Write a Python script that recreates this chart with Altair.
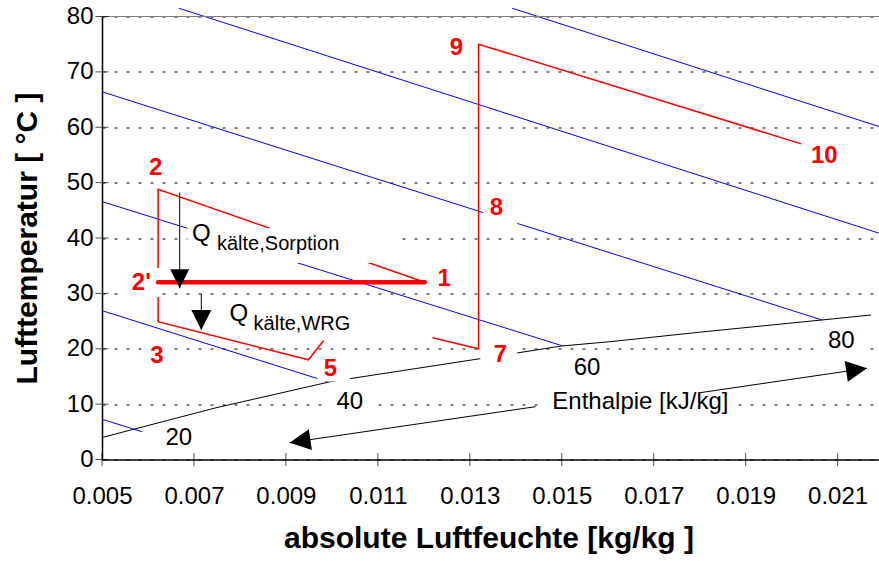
import math

import altair as alt
import pandas as pd

# ---------------------------------------------------------------- data
x_ticks = [0.005, 0.007, 0.009, 0.011, 0.013, 0.015, 0.017, 0.019, 0.021]
y_ticks = [0, 10, 20, 30, 40, 50, 60, 70, 80]
x_max = 0.0219

# saturation line (relative humidity 100 %)
sat_x = [0.005, 0.00746, 0.00997, 0.01337, 0.0150, 0.01606, 0.01801, 0.02066, 0.02173]
sat_t = [3.97, 9.3, 14.06, 18.39, 20.5, 21.28, 23.0, 25.2, 26.1]

# isenthalps [kJ/kg]: start and end point of each line
h_val = [20, 40, 60, 80, 100, 120]
h_x0 = [0.005, 0.005, 0.005, 0.005, 0.00667, 0.01392]
h_t0 = [7.26, 26.88, 46.58, 66.4, 81.5, 81.5]
h_x1 = [0.00587, 0.00992, 0.0150, 0.02066, 0.0219, 0.0219]
h_t1 = [5.02, 14.0, 20.56, 25.2, 40.87, 60.13]

h_lab = ["20", "40", "60", "80", "Enthalpie [kJ/kg]"]
h_lab_x = [0.00667, 0.01039, 0.01555, 0.02108, 0.01671]
h_lab_t = [3.83, 10.44, 16.48, 21.41, 10.39]

# air states of the process
path_a_x = [0.01202, 0.00622, 0.00622, 0.00949, 0.00982]
path_a_t = [32.0, 48.8, 24.9, 18.0, 21.5]
path_b_x = [0.01219, 0.01319, 0.01319, 0.02021]
path_b_t = [22.0, 20.0, 75.0, 57.0]
sorp_x = [0.00622, 0.01202]
sorp_t = [32.0, 32.0]

state_lab = ["1", "2", "2'", "3", "5", "7", "8", "9", "10"]
state_x = [0.012445, 0.00617, 0.005855, 0.006196, 0.009966, 0.013664, 0.013577, 0.012707, 0.020711]
state_t = [32.6, 52.6, 31.9, 18.7, 16.35, 18.88, 45.38, 74.29, 54.87]

# ---------------------------------------------------------------- layout
W, H = 777, 443
KX = W / (x_max - 0.005)   # px per kg/kg
KY = H / 80.0              # px per K
FONT = "Liberation Sans"

xs = alt.Scale(domain=[0.005, x_max], nice=False, zero=False)
ys = alt.Scale(domain=[0, 80], nice=False, zero=False)

x_axis = alt.Axis(
    values=x_ticks, format=".3f", title="absolute Luftfeuchte [kg/kg ]",
    grid=False, ticks=False, tickSize=0, labelPadding=25, labelFlush=False,
    labelFont=FONT, labelFontSize=24, labelColor="black",
    domainColor="black", domainWidth=1.5,
    titleFont=FONT, titleFontSize=30, titleFontWeight="bold", titleColor="black",
    titleX=W / 2 - 2, titleY=88, titleBaseline="alphabetic", titleAlign="center",
)
y_axis = alt.Axis(
    values=y_ticks, title="Lufttemperatur [ °C ]",
    grid=True, gridColor="black", gridDash=[3, 9], gridWidth=1,
    ticks=False, tickSize=0, labelPadding=9, labelFlush=False,
    labelFont=FONT, labelFontSize=24, labelColor="black",
    domainColor="black", domainWidth=1.5,
    titleFont=FONT, titleFontSize=30, titleFontWeight="bold", titleColor="black",
    titleX=-66, titleY=H / 2, titleAngle=270, titleBaseline="alphabetic", titleAlign="center",
)


def X(f="x"):
    return alt.X(f"{f}:Q", scale=xs, axis=x_axis)


def Y(f="t"):
    return alt.Y(f"{f}:Q", scale=ys, axis=y_axis)


def path(xv, tv, key):
    return pd.DataFrame({"x": xv, "t": tv, "i": range(len(xv)), "k": key})


# ---------------------------------------------------------------- tables
sat_df = path(sat_x, sat_t, "sat")
iso_df = pd.concat(
    [path([a, b], [c, d], str(h)) for h, a, b, c, d in zip(h_val, h_x0, h_x1, h_t0, h_t1)]
)
proc_df = pd.concat([path(path_a_x, path_a_t, "a"), path(path_b_x, path_b_t, "b")])
sorp_df = path(sorp_x, sorp_t, "s")

# white label backgrounds (data units)
boxes = pd.DataFrame({
    "x": [0.006855, 0.005485, 0.005964, 0.009683, 0.013228, 0.013294, 0.009966, 0.02056, 0.014664],
    "x2": [0.011488, 0.006268, 0.006442, 0.0104, 0.014033, 0.014033, 0.010836, 0.02154, 0.01882],
    "t": [35.5, 29.36, 16.53, 14.09, 16.53, 42.19, 7.86, 19.42, 7.86],
    "t2": [41.82, 34.6, 20.87, 18.7, 21.23, 47.25, 12.56, 23.4, 12.2],
})

# arrows: tail -> tip
arr = pd.DataFrame({
    "x": [0.00669, 0.00716, 0.01443, 0.01801],
    "t": [48.2, 29.9, 9.54, 12.07],
    "x2": [0.00669, 0.00716, 0.00908, 0.02164],
    "t2": [30.93, 23.4, 3.04, 16.48],
    "s": [361, 400, 441, 441],
})
arr["ang"] = [
    math.degrees(math.atan2(-(b - a) * KY, (d - c) * KX)) % 360
    for a, b, c, d in zip(arr["t"], arr["t2"], arr["x"], arr["x2"])
]

lab_df = pd.DataFrame({"x": state_x, "t": state_t, "s": state_lab})
hl_df = pd.DataFrame({"x": h_lab_x, "t": h_lab_t, "s": h_lab})

q_main = pd.DataFrame({"x": [0.006958, 0.007775], "t": [39.39, 25.02], "s": ["Q", "Q"]})
q_sub = pd.DataFrame({"x": [0.007501, 0.008297], "t": [37.85, 23.4],
                      "s": ["kälte,Sorption", "kälte,WRG"]})

# ---------------------------------------------------------------- layers
frame_top = alt.Chart(pd.DataFrame({"v": [0]})).mark_rule(color="#808080", strokeWidth=1).encode(
    x=alt.value(0), x2=alt.value(W), y=alt.value(0)
)

sat = alt.Chart(sat_df).mark_line(color="black", strokeWidth=1).encode(
    x=X(), y=Y(), order="i:Q"
)
iso = alt.Chart(iso_df).mark_line(color="#0000FF", strokeWidth=1).encode(
    x=X(), y=Y(), detail="k:N", order="i:Q"
)
proc = alt.Chart(proc_df).mark_line(color="#FF0000", strokeWidth=1.5).encode(
    x=X(), y=Y(), detail="k:N", order="i:Q"
)
bg = alt.Chart(boxes).mark_rect(color="white").encode(
    x=X(), x2="x2:Q", y=Y(), y2="t2:Q"
)
sorp = alt.Chart(sorp_df).mark_line(color="#FF0000", strokeWidth=4.5, strokeCap="round").encode(
    x=X(), y=Y(), order="i:Q"
)
arr_line = alt.Chart(arr).mark_rule(color="black", strokeWidth=1).encode(
    x=X(), y=Y(), x2="x2:Q", y2="t2:Q"
)
arr_head = alt.Chart(arr).mark_point(
    shape="M0,0L-2,-1L-2,1Z", filled=True, color="black", opacity=1, strokeWidth=0
).encode(
    x=X("x2"), y=Y("t2"),
    size=alt.Size("s:Q", scale=None),
    angle=alt.Angle("ang:Q", scale=None),
)
state_txt = alt.Chart(lab_df).mark_text(
    font=FONT, fontSize=24, fontWeight="bold", color="#FF0000", align="center", baseline="middle"
).encode(x=X(), y=Y(), text="s:N")
h_txt = alt.Chart(hl_df).mark_text(
    font=FONT, fontSize=24, color="black", align="center", baseline="middle"
).encode(x=X(), y=Y(), text="s:N")
q_txt = alt.Chart(q_main).mark_text(
    font=FONT, fontSize=24, color="black", align="left", baseline="alphabetic"
).encode(x=X(), y=Y(), text="s:N")
q_sub_txt = alt.Chart(q_sub).mark_text(
    font=FONT, fontSize=20, color="black", align="left", baseline="alphabetic"
).encode(x=X(), y=Y(), text="s:N")

# tick marks crossing the axis lines
yt = alt.Chart(pd.DataFrame({"v": y_ticks})).mark_tick(
    orient="horizontal", size=13, thickness=1, color="black"
).encode(y=Y("v"), x=alt.value(0))
xt = alt.Chart(pd.DataFrame({"v": x_ticks})).mark_tick(
    orient="vertical", size=13, thickness=1, color="black"
).encode(x=X("v"), y=alt.value(H))

chart = alt.layer(
    sat, iso, proc, bg, frame_top, sorp, arr_line, arr_head,
    state_txt, h_txt, q_txt, q_sub_txt, yt, xt,
).properties(
    width=W, height=H,
    autosize=alt.AutoSizeParams(type="none"),
    padding={"left": 102, "top": 16.5, "right": 0, "bottom": 101.5},
    background="white",
).configure_view(stroke=None)

chart.save("out.html", embed_options={"renderer": "svg", "actions": False})
